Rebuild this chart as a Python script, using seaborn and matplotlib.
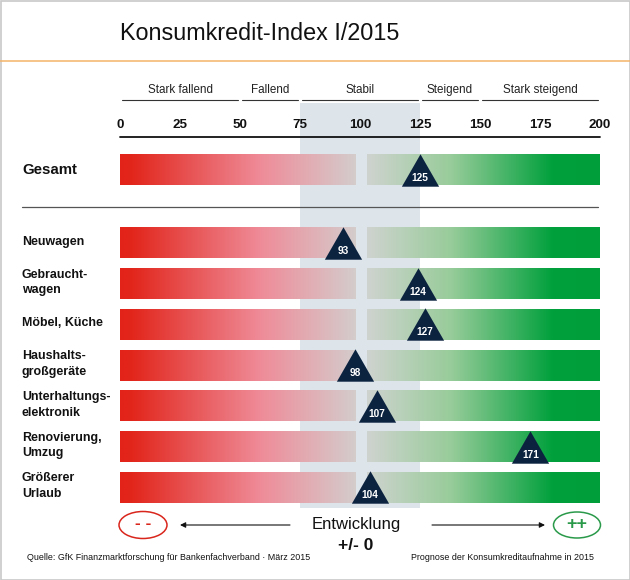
import numpy as np
import matplotlib
matplotlib.use('Agg')
import matplotlib.pyplot as plt
import matplotlib.transforms as mtransforms
from matplotlib.colors import LinearSegmentedColormap
from matplotlib.patches import Ellipse, Rectangle
from matplotlib.path import Path
import seaborn as sns

# ---- data -------------------------------------------------------------
title = 'Konsumkredit-Index I/2015'
zones = ['Stark fallend', 'Fallend', 'Stabil', 'Steigend', 'Stark steigend']
zone_edges = [0, 50, 75, 125, 150, 200]
ticks = [0, 25, 50, 75, 100, 125, 150, 175, 200]
stable_range = (75, 125)
neutral_gap = (98, 103)

total_label = 'Gesamt'
total_value = 125

categories = ['Neuwagen', 'Gebraucht-\nwagen', 'Möbel, Küche',
              'Haushalts-\ngroßgeräte', 'Unterhaltungs-\nelektronik',
              'Renovierung,\nUmzug', 'Größerer\nUrlaub']
values = [93, 124, 127, 98, 107, 171, 104]

source = 'Quelle: GfK Finanzmarktforschung für Bankenfachverband · März 2015'
note = 'Prognose der Konsumkreditaufnahme in 2015'

# ---- style ------------------------------------------------------------
sns.set_theme(style='white')
plt.rcParams['font.family'] = ['Liberation Sans', 'DejaVu Sans']

W, H = 630, 580
fig = plt.figure(figsize=(W / 100, H / 100), dpi=100)
ax = fig.add_axes([0, 0, 1, 1])
# pixel coordinates measured from the top-left corner
px = mtransforms.Affine2D().scale(1 / W, -1 / H).translate(0, 1) + fig.transFigure

navy = '#0c2340'
neg_cmap = LinearSegmentedColormap.from_list(
  'neg', [(0, '#e2231a'), (0.05, '#e2261c'), (0.6, '#ef8c99'), (1, '#d4cccc')])
pos_cmap = LinearSegmentedColormap.from_list(
  'pos', [(0, '#cfd3cf'), (0.36, '#98cc9a'), (0.8, '#00a03c'), (1, '#009e3a')])
grad = np.linspace(0, 1, 256).reshape(1, -1)

bar_h = 31
total_y = 170
row_y = [243 + 40.7 * i for i in range(len(categories))]


def draw_bar(yc, v):
  ax.imshow(grad, cmap=neg_cmap, aspect='auto', interpolation='bilinear',
            extent=[zone_edges[0], neutral_gap[0], yc + bar_h / 2, yc - bar_h / 2], zorder=2)
  ax.imshow(grad, cmap=pos_cmap, aspect='auto', interpolation='bilinear',
            extent=[neutral_gap[1], zone_edges[-1], yc + bar_h / 2, yc - bar_h / 2], zorder=2)
  ax.text(v, yc + 8, str(v), color='white', fontsize=7.3, fontweight='bold',
          ha='center', va='center', zorder=5)


# stable band
ax.add_patch(Rectangle((stable_range[0], 103), stable_range[1] - stable_range[0], 405,
                       facecolor='#dde5eb', edgecolor='none', zorder=0))

# zone headings
for name, a, b in zip(zones, zone_edges[:-1], zone_edges[1:]):
  ax.text((a + b) / 2, 90, name, fontsize=8.4, ha='center', va='center', color='#222')
  ax.plot([a + 0.8, b - 0.8], [99.5, 99.5], color='#333', lw=0.8)

for t in ticks:
  ax.text(t, 125, str(t), fontsize=9.6, fontweight='bold', ha='center', va='center', color='#111')
ax.plot([zone_edges[0], zone_edges[-1]], [137, 137], color='#111', lw=1.3)

# bars
draw_bar(total_y, total_value)
for yc, v in zip(row_y, values):
  draw_bar(yc, v)

tri = Path([(0, 0.87), (-1, -0.87), (1, -0.87), (0, 0.87)],
           [Path.MOVETO, Path.LINETO, Path.LINETO, Path.CLOSEPOLY])
sns.scatterplot(x=[total_value] + values, y=[total_y] + row_y, marker=tri, s=720,
                color=navy, linewidth=0, legend=False, ax=ax, zorder=4)

ax.set_xlim(-50, 212.5)
ax.set_ylim(H, 0)
ax.axis('off')

# row labels
ax.text(22, total_y, total_label, transform=px, fontsize=10.8, fontweight='bold',
        ha='left', va='center', color='#111')
for yc, name in zip(row_y, categories):
  ax.text(22, yc - 1, name, transform=px, fontsize=8.9, fontweight='bold',
          ha='left', va='center', color='#111', linespacing=1.4)

# lines, title, frame
ax.plot([22, 598], [207, 207], transform=px, color='#555', lw=0.9)
ax.plot([0, W], [61, 61], transform=px, color='#f2b46a', lw=1.1)
ax.add_patch(Rectangle((0.5, 0.5), W - 1, H - 1, transform=px, fill=False,
                       edgecolor='#c8c8c8', lw=1.2))
ax.text(120, 34, title, transform=px, fontsize=16.8, ha='left', va='center', color='#111')

# bottom legend
ax.add_patch(Ellipse((143, 525), 48, 27, transform=px, fill=False, edgecolor='#d9261c', lw=1.1))
ax.text(143, 524, '- -', transform=px, fontsize=12.5, fontweight='bold', color='#d9261c',
        ha='center', va='center')
ax.add_patch(Ellipse((577, 525), 47, 26, transform=px, fill=False, edgecolor='#2a9a4a', lw=1.1))
ax.text(577, 524, '++', transform=px, fontsize=13, fontweight='bold', color='#2a9a4a',
        ha='center', va='center')
arrow = dict(arrowstyle='-|>', color='#111', lw=0.8, mutation_scale=8, shrinkA=0, shrinkB=0)
ax.annotate('', xy=(180, 525), xytext=(290, 525), xycoords=px, textcoords=px, arrowprops=arrow)
ax.annotate('', xy=(545, 525), xytext=(432, 525), xycoords=px, textcoords=px, arrowprops=arrow)
ax.text(356, 525, 'Entwicklung', transform=px, fontsize=12, ha='center', va='center', color='#111')
ax.text(356, 546, '+/- 0', transform=px, fontsize=12.5, fontweight='bold', ha='center', va='center',
        color='#111')

ax.text(27, 557, source, transform=px, fontsize=6.4, ha='left', va='center', color='#111')
ax.text(594, 557, note, transform=px, fontsize=6.4, ha='right', va='center', color='#111')

fig.savefig('out.png', dpi=100)
